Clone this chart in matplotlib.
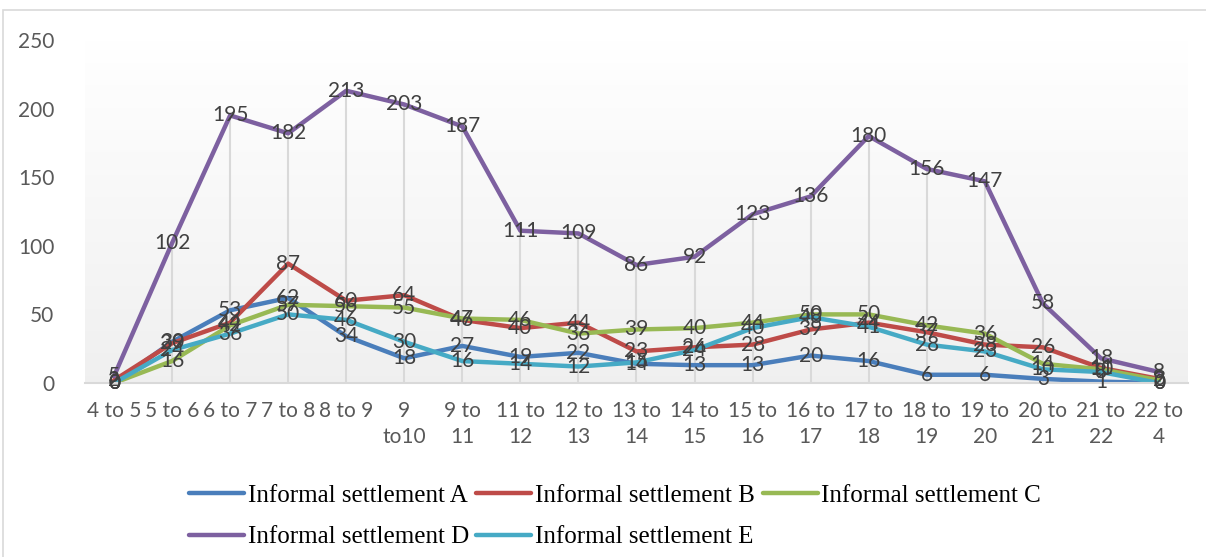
import numpy as np
import matplotlib.pyplot as plt
from matplotlib.patches import Rectangle

# time slots (hours)
hours = ['4 to 5', '5 to 6', '6 to 7', '7 to 8', '8 to 9', '9\nto10', '9 to\n11',
         '11 to\n12', '12 to\n13', '13 to\n14', '14 to\n15', '15 to\n16', '16 to\n17',
         '17 to\n18', '18 to\n19', '19 to\n20', '20 to\n21', '21 to\n22', '22 to\n4']

settlement_a = [0, 30, 53, 62, 34, 18, 27, 19, 22, 14, 13, 13, 20, 16, 6, 6, 3, 1, 0]
settlement_b = [2, 29, 44, 87, 60, 64, 46, 40, 44, 23, 26, 28, 39, 44, 37, 28, 26, 11, 3]
settlement_c = [0, 16, 42, 57, 56, 55, 47, 46, 36, 39, 40, 44, 50, 50, 42, 36, 14, 10, 2]
settlement_d = [5, 102, 195, 182, 213, 203, 187, 111, 109, 86, 92, 123, 136, 180, 156, 147, 58, 18, 8]
settlement_e = [0, 24, 36, 50, 46, 30, 16, 14, 12, 15, 24, 40, 48, 41, 28, 23, 10, 8, 0]

names = ['Informal settlement A', 'Informal settlement B', 'Informal settlement C',
         'Informal settlement D', 'Informal settlement E']
colors = ['#4a7ebb', '#be4b48', '#98b954', '#7d60a0', '#46aac5']

series = [settlement_a, settlement_b, settlement_c, settlement_d, settlement_e]
x = np.arange(len(hours))

fig = plt.figure(figsize=(12.06, 5.57), dpi=100)
ax = fig.add_axes([85/1206, 1-383/557, (1188-85)/1206, (383-40)/557])

# chart border
fig.patches.append(Rectangle((3/1206, -0.05), 1.2, 1-10/557+0.05, transform=fig.transFigure,
                             fill=False, edgecolor='#d9d9d9', linewidth=1.2))

# gradient background of the plot area
grad = np.linspace(1.0, 0.94, 256).reshape(-1, 1)
ax.imshow(np.dstack([grad, grad, grad]), extent=[0, 1, 0, 1], transform=ax.transAxes,
          aspect='auto', zorder=0)

# drop lines
tops = np.max(np.array(series), axis=0)
ax.vlines(x, 0, tops, color='#d9d9d9', linewidth=1.5, zorder=1)

lines = []
for vals, col, name in zip(series, colors, names):
    ln, = ax.plot(x, vals, color=col, linewidth=3.2, solid_joinstyle='round',
                  solid_capstyle='round', label=name, zorder=2)
    lines.append(ln)

for vals in series:
    for xi, v in zip(x, vals):
        ax.text(xi, v, str(v), ha='center', va='center', fontsize=15,
                color='#404040', family='Lato', zorder=3)

ax.set_xlim(-0.5, len(hours) - 0.5)
ax.set_ylim(0, 250)
ax.set_yticks([0, 50, 100, 150, 200, 250])
ax.set_xticks(x)
ax.set_xticklabels(hours, linespacing=1.4)
ax.tick_params(length=0, labelsize=15, labelcolor='#595959')
ax.tick_params(axis='y', pad=22)
ax.tick_params(axis='x', pad=13)
for lab in ax.get_xticklabels() + ax.get_yticklabels():
    lab.set_family('Lato')

for s in ['top', 'right', 'left']:
    ax.spines[s].set_visible(False)
ax.spines['bottom'].set_color('#d9d9d9')
ax.spines['bottom'].set_linewidth(1.5)

# row-wise legend order: A B C / D E
order = [0, 3, 1, 4, 2]
fig.legend([lines[i] for i in order], [names[i] for i in order],
           loc='upper center', bbox_to_anchor=(0.51, 1-472/557), ncol=3, frameon=False,
           prop={'family': 'Liberation Serif', 'size': 18}, handlelength=2.2,
           handletextpad=0.15, columnspacing=0.3, labelspacing=0.75, borderpad=0)

fig.savefig('out.png', dpi=100)
